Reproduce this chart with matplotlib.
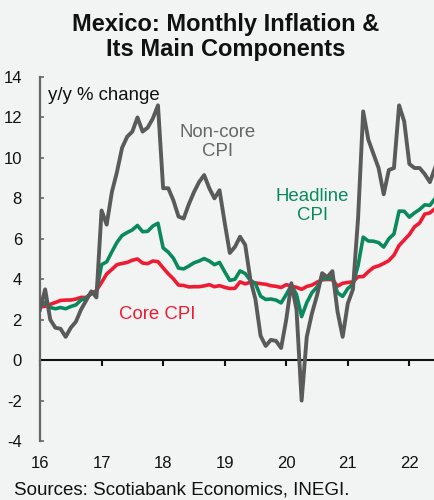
import matplotlib
matplotlib.use("Agg")
import matplotlib.pyplot as plt
import matplotlib.transforms as mtransforms
import numpy as np

plt.rcParams['font.family'] = ['Liberation Sans', 'DejaVu Sans']

# Monthly data, Jan 2016 .. Jun 2022 (y/y % change)
headline = [2.61, 2.87, 2.60, 2.54, 2.60, 2.54, 2.65, 2.73, 2.97, 3.06, 3.31, 3.36,
            4.72, 4.86, 5.35, 5.82, 6.16, 6.31, 6.44, 6.66, 6.35, 6.37, 6.63, 6.77,
            5.55, 5.34, 5.04, 4.55, 4.51, 4.65, 4.81, 4.90, 5.02, 4.90, 4.72, 4.83,
            4.37, 3.94, 4.00, 4.41, 4.28, 3.95, 3.78, 3.16, 3.00, 3.02, 2.97, 2.83,
            3.24, 3.70, 3.25, 2.15, 2.84, 3.33, 3.62, 4.05, 4.01, 4.09, 3.33, 3.15,
            3.54, 3.76, 4.67, 6.08, 5.89, 5.88, 5.81, 5.59, 6.00, 6.24, 7.37, 7.36,
            7.07, 7.28, 7.45, 7.68, 7.65, 7.99]
core = [2.64, 2.66, 2.76, 2.85, 2.95, 2.97, 2.97, 3.02, 3.10, 3.10, 3.29, 3.44,
        3.84, 4.26, 4.48, 4.72, 4.78, 4.83, 4.94, 5.00, 4.80, 4.77, 4.90, 4.87,
        4.56, 4.27, 4.02, 3.71, 3.69, 3.62, 3.63, 3.63, 3.67, 3.73, 3.63, 3.68,
        3.60, 3.54, 3.55, 3.87, 3.77, 3.85, 3.82, 3.78, 3.75, 3.68, 3.65, 3.59,
        3.73, 3.66, 3.60, 3.50, 3.64, 3.71, 3.85, 3.97, 3.99, 3.98, 3.66, 3.80,
        3.84, 3.87, 4.12, 4.13, 4.37, 4.58, 4.66, 4.78, 4.92, 5.19, 5.67, 5.94,
        6.21, 6.59, 6.78, 7.22, 7.28, 7.49]
noncore = [2.5, 3.5, 2.0, 1.6, 1.55, 1.15, 1.6, 1.9, 2.5, 2.95, 3.4, 3.1,
           7.4, 6.7, 8.3, 9.3, 10.5, 11.05, 11.3, 12.0, 11.3, 11.5, 11.95, 12.6,
           8.5, 8.5, 7.9, 7.1, 7.0, 7.7, 8.3, 8.8, 9.15, 8.5, 8.0, 8.4,
           6.8, 5.3, 5.6, 6.1, 5.7, 4.0, 3.0, 1.2, 0.7, 1.0, 0.95, 0.6,
           2.0, 3.8, 2.5, -2.0, 1.15, 2.3, 3.2, 4.3, 4.1, 4.4, 2.4, 1.15,
           2.8, 3.5, 7.0, 12.3, 10.9, 10.2, 9.5, 8.2, 9.4, 9.5, 12.6, 11.8,
           9.7, 9.5, 9.5, 9.2, 8.8, 9.5]
start_year = 2016
year_ticks = [2016, 2017, 2018, 2019, 2020, 2021, 2022]
year_labels = ['16', '17', '18', '19', '20', '21', '22']
y_ticks = [-4, -2, 0, 2, 4, 6, 8, 10, 12, 14]

x = start_year + np.arange(len(headline)) / 12.0

bg = '#f2f4f4'
c_grey = '#5a5a5a'
c_green = '#0a8a5c'
c_red = '#ee1c33'

fig = plt.figure(figsize=(4.35, 5.0), dpi=100, facecolor=bg)
ax = fig.add_axes([40/435, 1-441/500, 1-40/435, (441-77)/500])
ax.set_facecolor(bg)

ax.plot(x, core, color=c_red, lw=2.6, solid_joinstyle='round', zorder=3)
ax.plot(x, headline, color=c_green, lw=2.6, solid_joinstyle='round', zorder=4)
ax.plot(x, noncore, color=c_grey, lw=2.8, solid_joinstyle='round', zorder=5)

ax.set_xlim(x[0], x[-1])
ax.set_ylim(-4, 14)
ax.set_yticks(y_ticks)
ax.set_yticklabels([str(v) for v in y_ticks])
ax.set_xticks(year_ticks)
ax.set_xticklabels([])

for s in ['top', 'right']:
    ax.spines[s].set_visible(False)
ax.spines['left'].set_color('#666666')
ax.spines['left'].set_linewidth(1.6)
ax.spines['left'].set_bounds(-4, 14)
ax.spines['bottom'].set_position(('data', 0))
ax.spines['bottom'].set_color('#111111')
ax.spines['bottom'].set_linewidth(1.5)
ax.spines['bottom'].set_zorder(2)

ax.tick_params(axis='y', direction='in', length=3, width=1.2, color='#666666',
               labelsize=12, pad=13, labelcolor='#111111')
ax.tick_params(axis='x', direction='out', length=4, width=1.5, color='#111111')

trans = mtransforms.blended_transform_factory(ax.transData, ax.transAxes)
for yr, lab in zip(year_ticks, year_labels):
    ax.text(yr, -23/364, lab, transform=trans, ha='center', va='center',
            fontsize=12, color='#111111')

ax.text(2016.13, 13.1, 'y/y % change', fontsize=13.4, color='#111111',
        ha='left', va='center')
ax.text(2018.89, 10.8, 'Non-core\nCPI', fontsize=13.4, color='#666666',
        ha='center', va='center', linespacing=1.15)
ax.text(2020.43, 7.6, 'Headline\nCPI', fontsize=13.4, color=c_green,
        ha='center', va='center', linespacing=1.15)
ax.text(2017.9, 2.28, 'Core CPI', fontsize=13.4, color=c_red,
        ha='center', va='center')

fig.text(226/435, 1-37/500, 'Mexico: Monthly Inflation &\nIts Main Components',
         fontsize=17, fontweight='bold', ha='center', va='center',
         linespacing=1.1, color='#111111')
fig.text(14/435, 1-490/500, 'Sources: Scotiabank Economics, INEGI.',
         fontsize=13.5, ha='left', va='center', color='#111111')

fig.savefig('out.png', dpi=100, facecolor=bg)
